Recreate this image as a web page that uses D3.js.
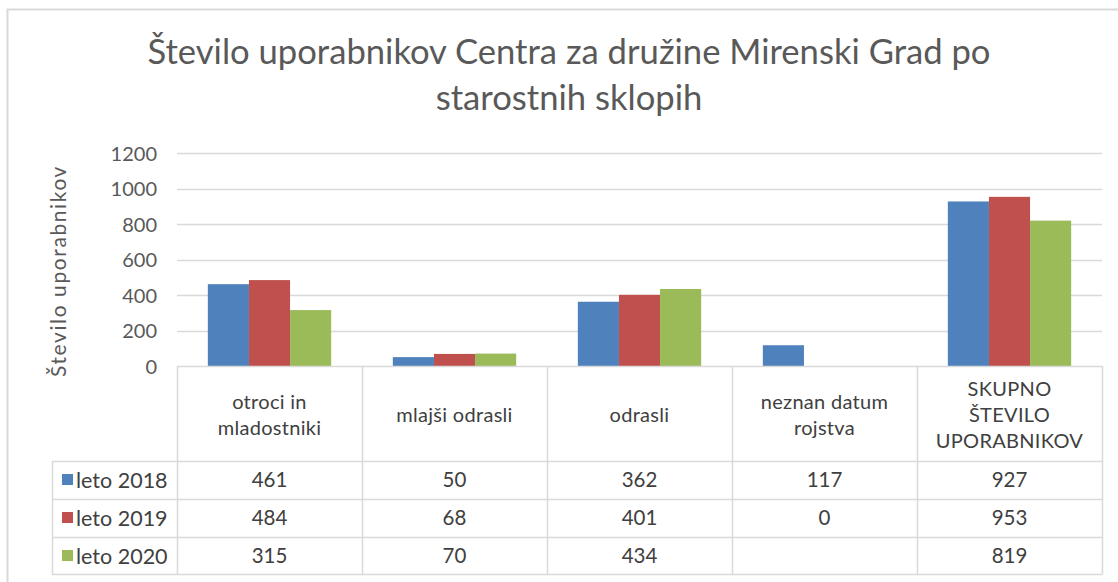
<!DOCTYPE html>
<html>
<head>
<meta charset="utf-8">
<script src="https://cdn.jsdelivr.net/npm/d3@7"></script>
<style>
  html, body { margin: 0; padding: 0; background: #fff; }
  svg { display: block; }
  text { font-family: Lato, "Open Sans", sans-serif; }
</style>
</head>
<body>
<svg id="chart" width="1118" height="582"></svg>
<script>
const categories = [
  ["otroci in", "mladostniki"],
  ["mlajši odrasli"],
  ["odrasli"],
  ["neznan datum", "rojstva"],
  ["SKUPNO", "ŠTEVILO", "UPORABNIKOV"]
];
const seriesNames = ["leto 2018", "leto 2019", "leto 2020"];
const values2018 = [461, 50, 362, 117, 927];
const values2019 = [484, 68, 401, 0, 953];
const values2020 = [315, 70, 434, null, 819];
const colors = ["#4F81BD", "#C0504D", "#9BBB59"];
const yTicks = [0, 200, 400, 600, 800, 1000, 1200];
const titleLines = ["Število uporabnikov Centra za družine Mirenski Grad po", "starostnih sklopih"];
const yTitle = "Število uporabnikov";

const series = [values2018, values2019, values2020];
const svg = d3.select("#chart");
const grid = "#D9D9D9";
const W = 1118, H = 582;

// outer chart border
svg.append("rect").attr("x", 7.5).attr("y", 9.5).attr("width", W + 20).attr("height", H + 20)
  .attr("fill", "#fff").attr("stroke", grid).attr("stroke-width", 2);

const plot = { left: 177, right: 1102, top: 153, bottom: 366 };
const x = d3.scaleBand().domain(d3.range(categories.length)).range([plot.left, plot.right]).padding(0);
const y = d3.scaleLinear().domain([0, 1200]).range([plot.bottom, plot.top]);
const bw = x.bandwidth();
const xs = d3.scaleBand().domain(d3.range(series.length))
  .range([bw * 0.75 / 4.5, bw - bw * 0.75 / 4.5]).padding(0);

// title
const title = svg.append("g");
const tLine1 = title.append("text").attr("x", 569).attr("y", 64).attr("text-anchor", "middle")
  .attr("fill", "#595959").style("font-size", "30px").text(titleLines[0]);
const measured = tLine1.node().getComputedTextLength();
const tSize = 30 * 843 / measured;
tLine1.style("font-size", tSize + "px");
title.append("text").attr("x", 569).attr("y", 110).attr("text-anchor", "middle")
  .attr("fill", "#595959").style("font-size", tSize + "px").text(titleLines[1]);

// gridlines
svg.append("g").selectAll("line").data(yTicks.filter(d => d > 0)).join("line")
  .attr("x1", plot.left).attr("x2", plot.right)
  .attr("y1", d => Math.round(y(d)) + 0.5).attr("y2", d => Math.round(y(d)) + 0.5)
  .attr("stroke", grid).attr("stroke-width", 1.5);

// y axis ticks (labels only)
const yAxis = d3.axisLeft(y).tickValues(yTicks).tickFormat(d3.format("d")).tickSize(0).tickPadding(0);
const yG = svg.append("g").attr("transform", `translate(157,0)`).call(yAxis);
yG.select(".domain").remove();
yG.selectAll("text").attr("fill", "#595959").style("font-size", "20px")
  .style("font-family", "Lato, 'Open Sans', sans-serif").attr("dy", "0.35em");

// y axis title
svg.append("text").attr("transform", "translate(66,271) rotate(-90)").attr("text-anchor", "middle")
  .attr("fill", "#595959").style("font-size", "21px").style("letter-spacing", "1.6px").text(yTitle);

// bars
series.forEach((vals, si) => {
  svg.append("g").selectAll("rect")
    .data(vals.map((v, i) => ({ v, i })).filter(d => d.v !== null && d.v > 0))
    .join("rect")
    .attr("x", d => x(d.i) + xs(si))
    .attr("width", xs.bandwidth())
    .attr("y", d => y(d.v))
    .attr("height", d => y(0) - y(d.v))
    .attr("fill", colors[si]);
});

// data table
const headerBottom = 461;
const rowH = 38;
const rows = [headerBottom, headerBottom + rowH, headerBottom + 2 * rowH, headerBottom + 3 * rowH - 1];
const legendLeft = 52;
const tbl = svg.append("g").attr("stroke", grid).attr("stroke-width", 1.5);
tbl.append("line").attr("x1", plot.left).attr("x2", plot.right).attr("y1", plot.bottom + 0.5).attr("y2", plot.bottom + 0.5);
rows.forEach(r => tbl.append("line").attr("x1", legendLeft).attr("x2", plot.right).attr("y1", r + 0.5).attr("y2", r + 0.5));
const bounds = d3.range(categories.length + 1).map(i => i < categories.length ? x(i) : plot.right);
bounds.forEach(b => tbl.append("line").attr("x1", b + 0.5).attr("x2", b + 0.5).attr("y1", plot.bottom).attr("y2", rows[3] + 0.5));
tbl.append("line").attr("x1", legendLeft + 0.5).attr("x2", legendLeft + 0.5).attr("y1", headerBottom).attr("y2", rows[3] + 0.5);

// category labels
const hc = (plot.bottom + headerBottom) / 2 + 1;
categories.forEach((lines, i) => {
  const cx = x(i) + bw / 2;
  const lh = 26;
  lines.forEach((ln, j) => {
    svg.append("text").attr("x", cx).attr("y", hc + (j - (lines.length - 1) / 2) * lh)
      .attr("dy", "0.35em").attr("text-anchor", "middle")
      .attr("fill", "#404040").style("font-size", "20px").style("letter-spacing", "0.3px").text(ln);
  });
});

// legend + values
seriesNames.forEach((name, si) => {
  const cy = headerBottom + rowH * si + rowH / 2;
  svg.append("rect").attr("x", 62).attr("y", cy - 6).attr("width", 11).attr("height", 11).attr("fill", colors[si]);
  svg.append("text").attr("x", 76).attr("y", cy).attr("dy", "0.35em")
    .attr("fill", "#404040").style("font-size", "21.5px").text(name);
  series[si].forEach((v, i) => {
    if (v === null) return;
    svg.append("text").attr("x", x(i) + bw / 2).attr("y", cy).attr("dy", "0.35em").attr("text-anchor", "middle")
      .attr("fill", "#404040").style("font-size", "20.5px").text(v);
  });
});
</script>
</body>
</html>
